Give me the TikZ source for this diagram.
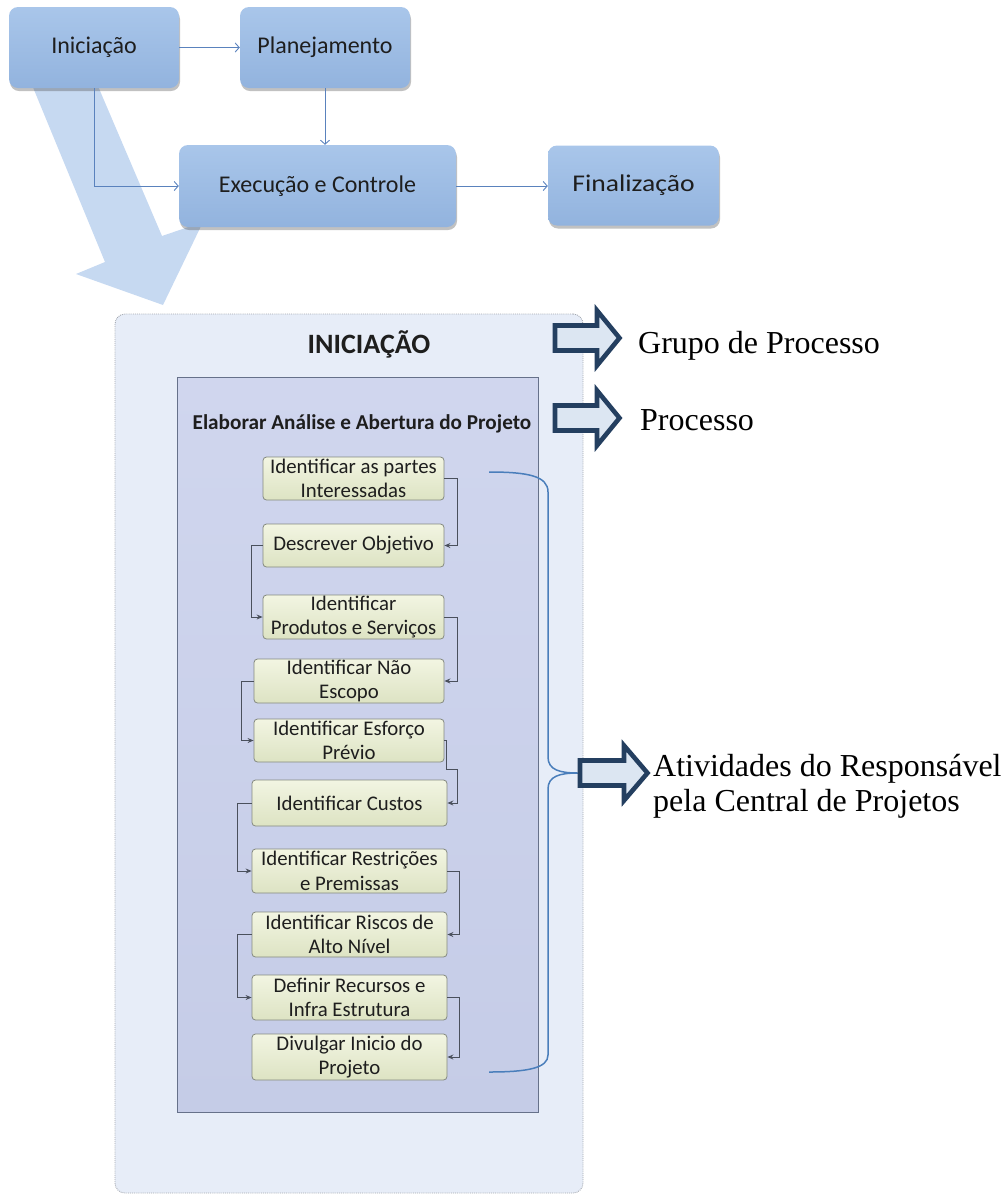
\documentclass[tikz,border=0pt]{standalone}
\usepackage{fontspec}
\setmainfont{Carlito}
\newfontfamily\widesans{Carlito}[FakeStretch=1.15]
\newfontfamily\serifface{Liberation Serif}
\usetikzlibrary{arrows.meta,shadows}

\definecolor{stageTop}{HTML}{A9C6EA}
\definecolor{stageBot}{HTML}{92B3DE}
\definecolor{flowBlue}{HTML}{5A82BD}
\definecolor{bigArrow}{HTML}{C6D9F1}
\definecolor{groupFill}{HTML}{E7EDF8}
\definecolor{groupEdge}{HTML}{A3A8B0}
\definecolor{procTop}{HTML}{D0D6EE}
\definecolor{procBot}{HTML}{C5CCE7}
\definecolor{procEdge}{HTML}{66718A}
\definecolor{actTop}{HTML}{F2F5E2}
\definecolor{actBot}{HTML}{DDE3C3}
\definecolor{actEdge}{HTML}{858A80}
\definecolor{linkGray}{HTML}{4A505C}
\definecolor{ink}{HTML}{1E1E1E}
\definecolor{navy}{HTML}{243F60}
\definecolor{calloutFill}{HTML}{DCE6F2}
\definecolor{braceBlue}{HTML}{4A7EBB}

\tikzset{
  stage/.style={rounded corners=9pt, top color=stageTop, bottom color=stageBot,
    draw=none, inner sep=0pt, text=ink, font=\fontsize{24}{28}\selectfont,
    drop shadow={shadow xshift=1pt, shadow yshift=-3pt, opacity=0.35, fill=black!70}},
  stageflow/.style={draw=flowBlue, line width=0.9pt, -{Straight Barb[length=4pt,width=9pt]}},
  act/.style={rounded corners=3.5pt, top color=actTop, bottom color=actBot,
    draw=actEdge, line width=0.8pt, inner sep=0pt, align=center, text=ink,
    font=\fontsize{20.8}{24.5}\selectfont},
  actflow/.style={draw=linkGray, line width=1pt, -{Stealth[length=6pt,width=5pt]}},
  callout/.style={draw=navy, line width=4.6pt, fill=calloutFill, line join=miter},
  lbl/.style={font=\serifface\fontsize{32}{35}\selectfont, inner sep=0pt, text=black},
  brace/.style={draw=braceBlue, line width=1.5pt},
}

\begin{document}
\begin{tikzpicture}[x=1pt,y=-1pt]
\useasboundingbox (0,0) rectangle (1005,1195);

% wide translucent arrow from the first stage down to its detail panel
\fill[bigArrow] (18,51) -- (105,262) -- (76,274) -- (163,305) -- (203,222)
  -- (162,236) -- (83,51) -- cycle;

% project life-cycle stages
\node[stage, minimum width=170pt, minimum height=81pt] (ini) at (94,47.5) {Iniciação};
\node[stage, minimum width=170pt, minimum height=81pt] (plan) at (325,47.5) {Planejamento};
\node[stage, minimum width=277pt, minimum height=82pt] (exe) at (317.5,186) {Execução e Controle};
\node[stage, minimum width=171pt, minimum height=80pt] (fin) at (633.5,185.5) {\widesans Finalização};

\draw[stageflow] (ini) -- (plan);
\draw[stageflow] (plan.south) -- (plan.south |- exe.north);
\draw[stageflow] (ini.south) |- (exe.west);
\draw[stageflow] (exe.east) -- (exe.east -| fin.west);

% process group panel
\node[draw=groupEdge, densely dotted, line width=0.9pt, fill=groupFill, rounded corners=10pt,
  minimum width=468pt, minimum height=879pt, inner sep=0pt] (grp) at (349,753.5) {};
\node[font=\bfseries\fontsize{28}{31}\selectfont, text=ink, inner sep=0pt, anchor=base]
  (grptitle) at (369,353) {INICIAÇÃO};

% process panel
\node[draw=procEdge, line width=1pt, top color=procTop, bottom color=procBot,
  minimum width=361pt, minimum height=735pt, inner sep=0pt] (proc) at (357.5,744.5) {};
\node[font=\bfseries\fontsize{21.2}{24}\selectfont, text=ink, inner sep=0pt, anchor=base]
  (proctitle) at (362,429) {Elaborar Análise e Abertura do Projeto};

% activities
\node[act, minimum width=181pt, minimum height=43pt] (a1) at (353.5,478.5) {Identificar as partes\\Interessadas};
\node[act, minimum width=181pt, minimum height=43pt] (a2) at (353.5,545.5) {Descrever Objetivo};
\node[act, minimum width=181pt, minimum height=44pt] (a3) at (353.5,617) {Identificar\\Produtos e Serviços};
\node[act, minimum width=190pt, minimum height=44pt] (a4) at (349,681) {Identificar Não\\Escopo};
\node[act, minimum width=190pt, minimum height=43pt] (a5) at (349,740.5) {Identificar Esforço\\Prévio};
\node[act, minimum width=195pt, minimum height=46pt] (a6) at (349.5,803) {Identificar Custos};
\node[act, minimum width=195pt, minimum height=44pt] (a7) at (349.5,871) {Identificar Restrições\\e Premissas};
\node[act, minimum width=195pt, minimum height=45pt] (a8) at (349.5,934.5) {Identificar Riscos de\\Alto Nível};
\node[act, minimum width=195pt, minimum height=45pt] (a9) at (349.5,997.5) {Definir Recursos e\\Infra Estrutura};
\node[act, minimum width=195pt, minimum height=46pt] (a10) at (349.5,1057) {Divulgar Inicio do\\Projeto};

\draw[actflow] (a1.east) -- ++(13,0) |- (a2.east);
\draw[actflow] (a2.west) -- ++(-11,0) |- (a3.west);
\draw[actflow] (a3.east) -- ++(13,0) |- (a4.east);
\draw[actflow] (a4.west) -- ++(-12,0) |- (a5.west);
\draw[actflow] (a5.east) -- ++(2,0) -- ++(0,29) -| ([xshift=10pt]a6.east) -- (a6.east);
\draw[actflow] (a6.west) -- ++(-14,0) |- (a7.west);
\draw[actflow] (a7.east) -- ++(12,0) |- (a8.east);
\draw[actflow] (a8.west) -- ++(-14,0) |- (a9.west);
\draw[actflow] (a9.east) -- ++(12,0) |- (a10.east);

% brace grouping the activities
\coordinate (bt) at (489,472);
\coordinate (bm) at (578,773);
\coordinate (bb) at (489,1072);
\draw[brace] (bt) .. controls (528,472) and (548,476) .. (548,492) -- (548,757)
  .. controls (548,770) and (560,773) .. (bm)
  .. controls (560,773) and (548,776) .. (548,789) -- (548,1055)
  .. controls (548,1068) and (528,1072) .. (bb);

% legend arrows
\draw[callout] (555,325.5) -- (597,325.5) -- (597,310.5) -- (619.5,338) -- (597,365.5)
  -- (597,350.5) -- (555,350.5) -- cycle;
\draw[callout] (555,405.5) -- (597,405.5) -- (597,390.5) -- (619.5,418) -- (597,445.5)
  -- (597,430.5) -- (555,430.5) -- cycle;
\draw[callout] (580,760.5) -- (624,760.5) -- (624,745.5) -- (647.5,773) -- (624,800.5)
  -- (624,785.5) -- (580,785.5) -- cycle;

\node[lbl, anchor=base west] (lgrp) at (638,353) {Grupo de Processo};
\node[lbl, anchor=base west] (lproc) at (640,430) {Processo};
\node[lbl, anchor=west, align=left] (lact) at (653,786) {Atividades do Responsável\\pela Central de Projetos};
\end{tikzpicture}
\end{document}
